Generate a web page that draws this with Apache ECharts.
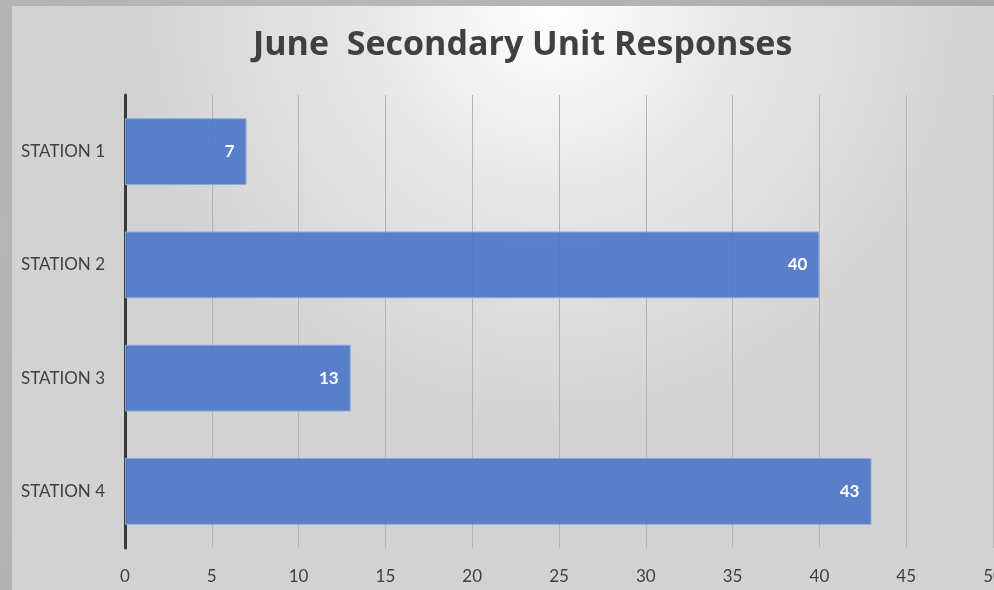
<!DOCTYPE html>
<html>
<head>
<meta charset="utf-8">
<script src="https://cdn.jsdelivr.net/npm/echarts@6/dist/echarts.min.js"></script>
<style>
  html, body { margin: 0; padding: 0; width: 994px; height: 590px; overflow: hidden;
    background: #b3b3b3; }
  body { background-image: radial-gradient(circle at 30% 40%, #bdbdbd 0%, #a9a9a9 100%); }
  #chart { position: absolute; left: 12px; top: 6px; width: 982px; height: 584px; }
</style>
</head>
<body>
<div id="chart"></div>
<script>
const titleText = 'June  Secondary Unit Responses';
const categories = ['STATION 1', 'STATION 2', 'STATION 3', 'STATION 4'];
const responses = [7, 40, 13, 43];
const xMin = 0, xMax = 50, xStep = 5;

const FONT = 'Lato, "Open Sans", sans-serif';
const TITLE_FONT = '"Open Sans", Lato, sans-serif';
const chart = echarts.init(document.getElementById('chart'), null, { renderer: 'canvas' });
chart.setOption({
  animation: false,
  backgroundColor: {
    type: 'radial', x: 0.55, y: 0.0, r: 0.75,
    colorStops: [
      { offset: 0, color: '#ffffff' },
      { offset: 0.45, color: '#e6e6e6' },
      { offset: 1, color: '#d2d2d2' }
    ]
  },
  title: {
    text: titleText, left: 236, top: 17,
    textStyle: { fontFamily: TITLE_FONT, fontSize: 34, fontWeight: 'bold', color: '#404040' }
  },
  grid: { left: 113, right: 1, top: 89, bottom: 42, containLabel: false, outerBoundsMode: 'none' },
  xAxis: {
    type: 'value', min: xMin, max: xMax, interval: xStep,
    axisLine: { show: false }, axisTick: { show: false },
    axisLabel: { margin: 20, fontFamily: FONT, fontSize: 17, color: '#404040', showMaxLabel: true, hideOverlap: false },
    splitLine: { show: true, lineStyle: { color: '#b4b4b4', width: 1 } }
  },
  yAxis: {
    type: 'category', data: categories, inverse: true,
    axisLine: { show: true, lineStyle: { color: '#3a3a3a', width: 3 } },
    axisTick: { show: false },
    axisLabel: { margin: 20, fontFamily: FONT, fontSize: 17, color: '#404040' }
  },
  series: [{
    type: 'bar', data: responses, barCategoryGap: '41%',
    itemStyle: { color: 'rgba(76,118,200,0.9)', borderColor: '#8eaadc', borderWidth: 1 },
    label: {
      show: true, position: 'insideRight', distance: 12,
      fontFamily: FONT, fontSize: 17, fontWeight: 'bold', color: '#ffffff'
    }
  }]
});
</script>
</body>
</html>
